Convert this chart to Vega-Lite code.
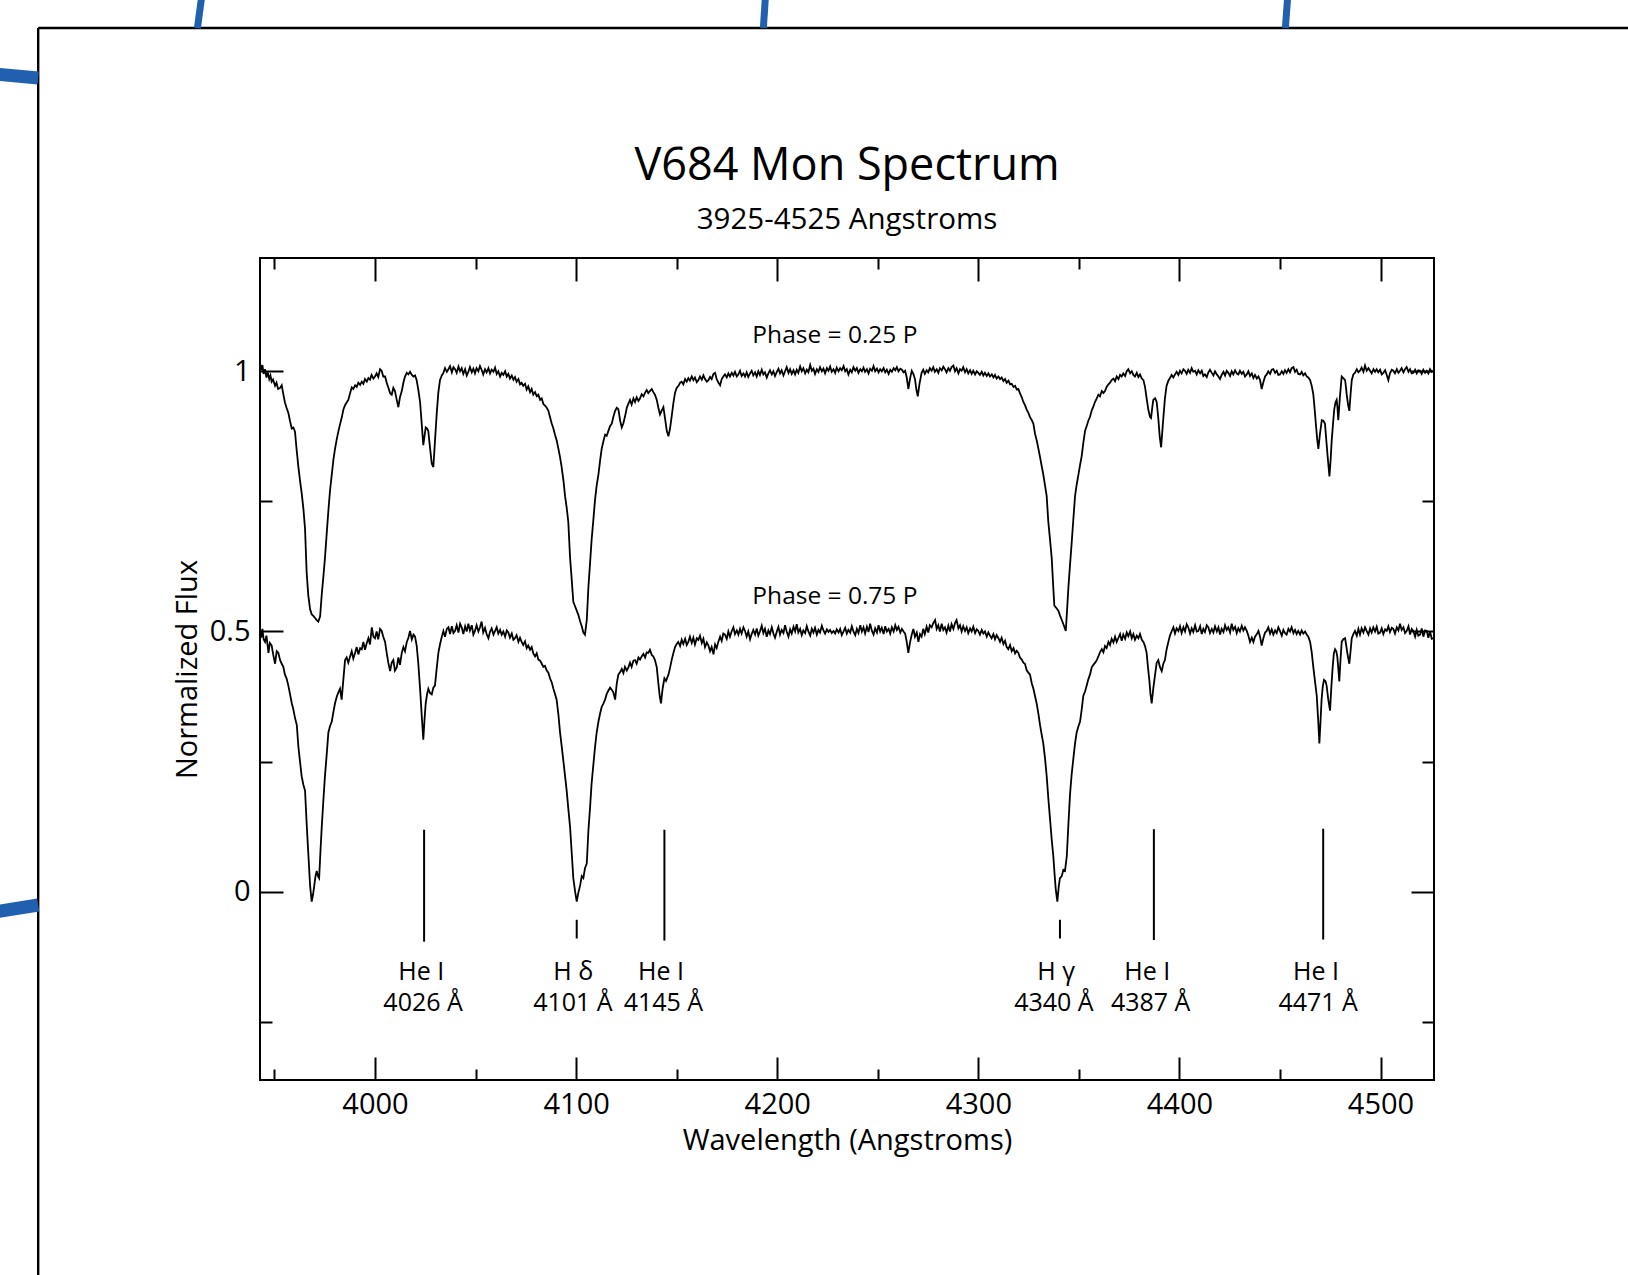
{
"$schema":"https://vega.github.io/schema/vega-lite/v6.json",
"width":1174,"height":822,
"autosize":{"type":"none"},
"padding":{"left":260,"top":258,"right":194,"bottom":195},
"background":"white",
"title":{"text":"V684 Mon Spectrum","subtitle":"3925-4525 Angstroms","anchor":"middle","frame":"group","font":"Open Sans","subtitleFont":"Open Sans","fontSize":45,"subtitleFontSize":29.5,"fontWeight":"normal","color":"black","subtitleColor":"black","offset":-239.6,"subtitlePadding":17},
"config":{"view":{"stroke":"black","strokeWidth":2},"axis":{"grid":false,"domain":false,"labelFont":"Open Sans","titleFont":"Open Sans","labelColor":"black","titleColor":"black","tickColor":"black"}},
"resolve":{"axis":{"x":"independent","y":"independent"}},
"datasets":{
"p25":[{"w":3942.8,"f":1.015},{"w":3943.4,"f":1.002},{"w":3944.0,"f":1.012},{"w":3944.6,"f":0.995},{"w":3945.3,"f":1.004},{"w":3946.0,"f":0.988},{"w":3946.7,"f":0.998},{"w":3947.4,"f":0.985},{"w":3948.0,"f":0.992},{"w":3948.6,"f":0.980},{"w":3949.3,"f":0.984},{"w":3950.3,"f":0.972},{"w":3951.0,"f":0.978},{"w":3951.8,"f":0.966},{"w":3952.8,"f":0.968},{"w":3953.6,"f":0.973},{"w":3954.3,"f":0.958},{"w":3955.2,"f":0.940},{"w":3956.0,"f":0.930},{"w":3956.9,"f":0.920},{"w":3957.7,"f":0.905},{"w":3958.6,"f":0.890},{"w":3959.4,"f":0.892},{"w":3960.2,"f":0.884},{"w":3961.0,"f":0.850},{"w":3961.9,"f":0.816},{"w":3962.7,"f":0.790},{"w":3963.5,"f":0.767},{"w":3964.4,"f":0.735},{"w":3965.2,"f":0.697},{"w":3966.0,"f":0.613},{"w":3966.8,"f":0.570},{"w":3967.7,"f":0.543},{"w":3968.5,"f":0.533},{"w":3969.3,"f":0.530},{"w":3970.2,"f":0.526},{"w":3971.0,"f":0.522},{"w":3971.8,"f":0.519},{"w":3972.7,"f":0.529},{"w":3973.5,"f":0.571},{"w":3974.3,"f":0.605},{"w":3975.1,"f":0.641},{"w":3976.0,"f":0.690},{"w":3976.8,"f":0.732},{"w":3977.6,"f":0.770},{"w":3978.5,"f":0.802},{"w":3979.3,"f":0.830},{"w":3980.1,"f":0.851},{"w":3981.0,"f":0.870},{"w":3981.8,"f":0.885},{"w":3982.6,"f":0.898},{"w":3983.5,"f":0.912},{"w":3984.3,"f":0.927},{"w":3985.1,"f":0.935},{"w":3985.9,"f":0.940},{"w":3986.7,"f":0.945},{"w":3987.6,"f":0.958},{"w":3988.4,"f":0.969},{"w":3989.2,"f":0.966},{"w":3990.1,"f":0.973},{"w":3990.9,"f":0.970},{"w":3991.7,"f":0.978},{"w":3992.6,"f":0.974},{"w":3993.4,"f":0.980},{"w":3994.2,"f":0.976},{"w":3995.0,"f":0.985},{"w":3995.9,"f":0.980},{"w":3996.7,"f":0.987},{"w":3997.5,"f":0.984},{"w":3998.3,"f":0.993},{"w":3999.2,"f":0.986},{"w":4000.0,"f":0.990},{"w":4000.8,"f":0.996},{"w":4001.6,"f":0.989},{"w":4002.5,"f":1.004},{"w":4003.3,"f":1.001},{"w":4004.1,"f":0.990},{"w":4005.0,"f":0.990},{"w":4005.8,"f":0.978},{"w":4006.6,"f":0.969},{"w":4007.5,"f":0.958},{"w":4008.3,"f":0.955},{"w":4009.1,"f":0.968},{"w":4009.9,"f":0.962},{"w":4010.8,"f":0.945},{"w":4011.6,"f":0.931},{"w":4012.4,"f":0.950},{"w":4013.3,"f":0.962},{"w":4014.1,"f":0.978},{"w":4014.9,"f":0.990},{"w":4015.8,"f":0.997},{"w":4016.6,"f":0.994},{"w":4017.4,"f":0.999},{"w":4018.3,"f":0.993},{"w":4019.1,"f":0.990},{"w":4019.9,"f":0.992},{"w":4020.7,"f":0.983},{"w":4021.5,"f":0.965},{"w":4022.4,"f":0.941},{"w":4023.2,"f":0.900},{"w":4024.0,"f":0.858},{"w":4024.6,"f":0.875},{"w":4025.2,"f":0.892},{"w":4025.9,"f":0.890},{"w":4026.5,"f":0.885},{"w":4027.3,"f":0.855},{"w":4028.2,"f":0.823},{"w":4029.0,"f":0.816},{"w":4029.8,"f":0.865},{"w":4030.7,"f":0.920},{"w":4031.5,"f":0.960},{"w":4032.3,"f":0.983},{"w":4033.2,"f":0.992},{"w":4034.0,"f":0.997},{"w":4034.8,"f":1.006},{"w":4035.7,"f":0.999},{"w":4036.5,"f":1.004},{"w":4037.3,"f":1.010},{"w":4038.2,"f":0.998},{"w":4039.0,"f":1.008},{"w":4039.8,"f":1.004},{"w":4040.6,"f":0.997},{"w":4041.5,"f":1.009},{"w":4042.3,"f":1.000},{"w":4043.1,"f":1.006},{"w":4043.9,"f":0.995},{"w":4044.8,"f":1.004},{"w":4045.6,"f":0.992},{"w":4046.4,"f":0.999},{"w":4047.2,"f":1.008},{"w":4048.1,"f":0.998},{"w":4048.9,"f":1.005},{"w":4049.7,"f":0.996},{"w":4050.5,"f":1.006},{"w":4051.4,"f":1.000},{"w":4052.2,"f":1.010},{"w":4053.0,"f":1.003},{"w":4053.8,"f":0.994},{"w":4054.7,"f":1.004},{"w":4055.5,"f":0.998},{"w":4056.4,"f":1.006},{"w":4057.2,"f":0.996},{"w":4058.0,"f":1.003},{"w":4058.9,"f":0.999},{"w":4059.7,"f":1.007},{"w":4060.5,"f":0.995},{"w":4061.3,"f":1.000},{"w":4062.2,"f":0.990},{"w":4063.0,"f":0.997},{"w":4063.8,"f":0.993},{"w":4064.7,"f":1.000},{"w":4065.5,"f":0.990},{"w":4066.3,"f":0.995},{"w":4067.1,"f":0.986},{"w":4068.0,"f":0.992},{"w":4068.8,"f":0.984},{"w":4069.6,"f":0.989},{"w":4070.4,"f":0.980},{"w":4071.3,"f":0.985},{"w":4072.1,"f":0.975},{"w":4072.9,"f":0.978},{"w":4073.7,"f":0.972},{"w":4074.6,"f":0.976},{"w":4075.4,"f":0.965},{"w":4076.2,"f":0.971},{"w":4077.1,"f":0.960},{"w":4077.9,"f":0.966},{"w":4078.7,"f":0.955},{"w":4079.6,"f":0.960},{"w":4080.4,"f":0.952},{"w":4081.2,"f":0.955},{"w":4082.1,"f":0.945},{"w":4082.9,"f":0.948},{"w":4083.7,"f":0.937},{"w":4084.5,"f":0.934},{"w":4085.4,"f":0.930},{"w":4086.2,"f":0.924},{"w":4087.0,"f":0.912},{"w":4087.9,"f":0.899},{"w":4088.7,"f":0.890},{"w":4089.5,"f":0.878},{"w":4090.4,"f":0.866},{"w":4091.2,"f":0.851},{"w":4092.0,"f":0.835},{"w":4092.8,"f":0.816},{"w":4093.7,"f":0.790},{"w":4094.5,"f":0.760},{"w":4095.3,"f":0.738},{"w":4096.1,"f":0.711},{"w":4097.0,"f":0.641},{"w":4097.8,"f":0.600},{"w":4098.6,"f":0.557},{"w":4099.5,"f":0.548},{"w":4100.3,"f":0.540},{"w":4101.1,"f":0.532},{"w":4102.0,"f":0.519},{"w":4102.8,"f":0.510},{"w":4103.6,"f":0.498},{"w":4104.4,"f":0.494},{"w":4105.3,"f":0.522},{"w":4106.1,"f":0.585},{"w":4106.9,"f":0.630},{"w":4107.7,"f":0.676},{"w":4108.6,"f":0.716},{"w":4109.4,"f":0.753},{"w":4110.2,"f":0.780},{"w":4111.1,"f":0.802},{"w":4111.9,"f":0.828},{"w":4112.7,"f":0.851},{"w":4113.6,"f":0.866},{"w":4114.4,"f":0.878},{"w":4115.2,"f":0.876},{"w":4116.0,"f":0.885},{"w":4116.9,"f":0.895},{"w":4117.7,"f":0.899},{"w":4118.5,"f":0.912},{"w":4119.4,"f":0.924},{"w":4120.2,"f":0.930},{"w":4121.0,"f":0.927},{"w":4121.9,"f":0.905},{"w":4122.7,"f":0.892},{"w":4123.5,"f":0.900},{"w":4124.3,"f":0.913},{"w":4125.2,"f":0.930},{"w":4126.0,"f":0.938},{"w":4126.8,"f":0.945},{"w":4127.6,"f":0.936},{"w":4128.5,"f":0.948},{"w":4129.3,"f":0.941},{"w":4130.1,"f":0.950},{"w":4131.0,"f":0.943},{"w":4131.8,"f":0.948},{"w":4132.6,"f":0.956},{"w":4133.5,"f":0.952},{"w":4134.3,"f":0.959},{"w":4135.1,"f":0.964},{"w":4135.9,"f":0.958},{"w":4136.7,"f":0.962},{"w":4137.6,"f":0.966},{"w":4138.4,"f":0.960},{"w":4139.2,"f":0.955},{"w":4140.1,"f":0.945},{"w":4140.9,"f":0.930},{"w":4141.7,"f":0.917},{"w":4142.6,"f":0.925},{"w":4143.4,"f":0.931},{"w":4144.2,"f":0.910},{"w":4145.1,"f":0.885},{"w":4145.9,"f":0.875},{"w":4146.7,"f":0.890},{"w":4147.5,"f":0.913},{"w":4148.4,"f":0.940},{"w":4149.2,"f":0.959},{"w":4150.0,"f":0.968},{"w":4150.9,"f":0.972},{"w":4151.7,"f":0.978},{"w":4152.5,"f":0.980},{"w":4153.3,"f":0.975},{"w":4154.2,"f":0.985},{"w":4155.0,"f":0.980},{"w":4155.8,"f":0.987},{"w":4156.6,"f":0.982},{"w":4157.5,"f":0.990},{"w":4158.3,"f":0.983},{"w":4159.1,"f":0.988},{"w":4160.0,"f":0.979},{"w":4160.8,"f":0.983},{"w":4161.6,"f":0.990},{"w":4162.5,"f":0.984},{"w":4163.3,"f":0.992},{"w":4164.1,"f":0.985},{"w":4165.0,"f":0.980},{"w":4165.8,"f":0.983},{"w":4166.6,"f":0.989},{"w":4167.4,"f":0.985},{"w":4168.3,"f":0.995},{"w":4169.1,"f":0.997},{"w":4169.9,"f":0.985},{"w":4170.8,"f":0.978},{"w":4171.6,"f":0.973},{"w":4172.4,"f":0.985},{"w":4173.2,"f":0.990},{"w":4174.0,"f":0.994},{"w":4174.9,"f":0.988},{"w":4175.7,"f":0.996},{"w":4176.5,"f":0.990},{"w":4177.4,"f":0.997},{"w":4178.2,"f":0.992},{"w":4179.0,"f":0.999},{"w":4179.9,"f":0.990},{"w":4180.7,"f":0.994},{"w":4181.5,"f":1.001},{"w":4182.3,"f":0.991},{"w":4183.2,"f":0.996},{"w":4184.0,"f":0.990},{"w":4184.8,"f":0.998},{"w":4185.6,"f":0.989},{"w":4186.5,"f":0.996},{"w":4187.3,"f":1.001},{"w":4188.1,"f":0.992},{"w":4189.0,"f":0.998},{"w":4189.8,"f":0.990},{"w":4190.6,"f":1.000},{"w":4191.4,"f":0.993},{"w":4192.3,"f":1.003},{"w":4193.1,"f":0.994},{"w":4193.9,"f":0.998},{"w":4194.8,"f":0.988},{"w":4195.6,"f":0.996},{"w":4196.4,"f":1.002},{"w":4197.3,"f":0.994},{"w":4198.1,"f":1.000},{"w":4198.9,"f":0.991},{"w":4199.8,"f":0.999},{"w":4200.6,"f":1.005},{"w":4201.4,"f":0.996},{"w":4202.2,"f":1.002},{"w":4203.1,"f":0.992},{"w":4203.9,"f":1.000},{"w":4204.7,"f":1.008},{"w":4205.6,"f":0.997},{"w":4206.4,"f":1.004},{"w":4207.2,"f":0.995},{"w":4208.1,"f":1.002},{"w":4208.9,"f":0.994},{"w":4209.7,"f":1.003},{"w":4210.5,"f":0.997},{"w":4211.4,"f":1.009},{"w":4212.2,"f":1.000},{"w":4213.0,"f":1.006},{"w":4213.9,"f":0.996},{"w":4214.7,"f":1.003},{"w":4215.5,"f":0.998},{"w":4216.4,"f":1.012},{"w":4217.2,"f":1.001},{"w":4218.0,"f":1.005},{"w":4218.8,"f":0.995},{"w":4219.7,"f":1.004},{"w":4220.5,"f":0.999},{"w":4221.3,"f":1.008},{"w":4222.2,"f":1.000},{"w":4223.0,"f":1.005},{"w":4223.8,"f":0.996},{"w":4224.7,"f":1.006},{"w":4225.5,"f":1.001},{"w":4226.3,"f":1.009},{"w":4227.1,"f":0.999},{"w":4228.0,"f":1.004},{"w":4228.8,"f":0.997},{"w":4229.6,"f":1.007},{"w":4230.5,"f":1.000},{"w":4231.3,"f":1.006},{"w":4232.1,"f":1.002},{"w":4233.0,"f":1.010},{"w":4233.8,"f":1.000},{"w":4234.6,"f":1.004},{"w":4235.4,"f":0.994},{"w":4236.3,"f":1.003},{"w":4237.1,"f":0.998},{"w":4237.9,"f":1.008},{"w":4238.8,"f":1.001},{"w":4239.6,"f":1.006},{"w":4240.4,"f":0.997},{"w":4241.3,"f":1.004},{"w":4242.1,"f":1.000},{"w":4242.9,"f":1.007},{"w":4243.7,"f":0.999},{"w":4244.6,"f":1.004},{"w":4245.4,"f":0.996},{"w":4246.2,"f":1.005},{"w":4247.1,"f":1.001},{"w":4247.9,"f":1.010},{"w":4248.7,"f":1.000},{"w":4249.6,"f":1.005},{"w":4250.4,"f":0.998},{"w":4251.2,"f":1.004},{"w":4252.0,"f":1.000},{"w":4252.9,"f":1.006},{"w":4253.7,"f":0.998},{"w":4254.5,"f":1.003},{"w":4255.4,"f":0.995},{"w":4256.2,"f":1.003},{"w":4257.0,"f":0.999},{"w":4257.9,"f":1.006},{"w":4258.7,"f":1.002},{"w":4259.5,"f":1.008},{"w":4260.3,"f":1.000},{"w":4261.2,"f":1.005},{"w":4262.0,"f":1.003},{"w":4262.8,"f":0.998},{"w":4263.6,"f":1.001},{"w":4264.4,"f":0.988},{"w":4265.2,"f":0.966},{"w":4266.0,"f":0.985},{"w":4266.9,"f":1.001},{"w":4267.7,"f":0.995},{"w":4268.5,"f":0.985},{"w":4269.2,"f":0.965},{"w":4269.9,"f":0.952},{"w":4270.7,"f":0.975},{"w":4271.8,"f":0.997},{"w":4272.6,"f":1.003},{"w":4273.4,"f":0.995},{"w":4274.3,"f":1.002},{"w":4275.1,"f":0.998},{"w":4275.9,"f":1.006},{"w":4276.8,"f":1.001},{"w":4277.6,"f":1.008},{"w":4278.4,"f":0.999},{"w":4279.3,"f":1.004},{"w":4280.1,"f":0.997},{"w":4280.9,"f":1.006},{"w":4281.8,"f":1.002},{"w":4282.6,"f":1.009},{"w":4283.4,"f":1.004},{"w":4284.2,"f":0.998},{"w":4285.1,"f":1.006},{"w":4285.9,"f":1.001},{"w":4286.7,"f":1.008},{"w":4287.6,"f":1.011},{"w":4288.4,"f":1.000},{"w":4289.2,"f":1.006},{"w":4290.1,"f":0.996},{"w":4290.9,"f":1.004},{"w":4291.7,"f":1.001},{"w":4292.5,"f":1.008},{"w":4293.4,"f":0.998},{"w":4294.2,"f":1.004},{"w":4295.0,"f":0.996},{"w":4295.9,"f":1.002},{"w":4296.7,"f":0.995},{"w":4297.5,"f":1.001},{"w":4298.4,"f":0.994},{"w":4299.2,"f":1.000},{"w":4300.0,"f":0.997},{"w":4300.8,"f":0.993},{"w":4301.7,"f":0.999},{"w":4302.5,"f":0.992},{"w":4303.3,"f":0.997},{"w":4304.2,"f":0.991},{"w":4305.0,"f":0.996},{"w":4305.8,"f":0.990},{"w":4306.7,"f":0.994},{"w":4307.5,"f":0.988},{"w":4308.3,"f":0.993},{"w":4309.1,"f":0.986},{"w":4310.0,"f":0.990},{"w":4310.8,"f":0.985},{"w":4311.6,"f":0.988},{"w":4312.5,"f":0.981},{"w":4313.3,"f":0.985},{"w":4314.1,"f":0.978},{"w":4315.0,"f":0.982},{"w":4315.8,"f":0.975},{"w":4316.6,"f":0.976},{"w":4317.5,"f":0.970},{"w":4318.3,"f":0.972},{"w":4319.1,"f":0.965},{"w":4319.9,"f":0.966},{"w":4320.7,"f":0.958},{"w":4321.6,"f":0.950},{"w":4322.4,"f":0.941},{"w":4323.2,"f":0.935},{"w":4324.1,"f":0.926},{"w":4324.9,"f":0.920},{"w":4325.7,"f":0.912},{"w":4326.6,"f":0.906},{"w":4327.4,"f":0.899},{"w":4328.2,"f":0.880},{"w":4329.1,"f":0.866},{"w":4329.9,"f":0.851},{"w":4330.7,"f":0.835},{"w":4331.5,"f":0.818},{"w":4332.3,"f":0.802},{"w":4333.2,"f":0.780},{"w":4334.0,"f":0.760},{"w":4334.8,"f":0.711},{"w":4335.7,"f":0.675},{"w":4336.5,"f":0.641},{"w":4337.2,"f":0.590},{"w":4337.8,"f":0.550},{"w":4338.8,"f":0.545},{"w":4339.8,"f":0.540},{"w":4340.6,"f":0.531},{"w":4341.5,"f":0.522},{"w":4342.5,"f":0.512},{"w":4343.5,"f":0.501},{"w":4344.2,"f":0.545},{"w":4344.8,"f":0.585},{"w":4345.6,"f":0.628},{"w":4346.4,"f":0.669},{"w":4347.3,"f":0.718},{"w":4348.1,"f":0.760},{"w":4348.9,"f":0.782},{"w":4349.8,"f":0.802},{"w":4350.6,"f":0.820},{"w":4351.4,"f":0.837},{"w":4352.2,"f":0.862},{"w":4353.1,"f":0.886},{"w":4353.9,"f":0.895},{"w":4354.7,"f":0.905},{"w":4355.6,"f":0.913},{"w":4356.4,"f":0.925},{"w":4357.2,"f":0.932},{"w":4358.0,"f":0.941},{"w":4358.9,"f":0.948},{"w":4359.7,"f":0.955},{"w":4360.5,"f":0.952},{"w":4361.4,"f":0.962},{"w":4362.2,"f":0.958},{"w":4363.0,"f":0.962},{"w":4363.8,"f":0.970},{"w":4364.7,"f":0.975},{"w":4365.5,"f":0.978},{"w":4366.3,"f":0.983},{"w":4367.2,"f":0.986},{"w":4368.0,"f":0.981},{"w":4368.8,"f":0.990},{"w":4369.7,"f":0.985},{"w":4370.5,"f":0.993},{"w":4371.3,"f":0.990},{"w":4372.1,"f":0.996},{"w":4373.0,"f":0.991},{"w":4373.8,"f":1.000},{"w":4374.6,"f":1.004},{"w":4375.5,"f":0.996},{"w":4376.3,"f":1.000},{"w":4377.1,"f":0.993},{"w":4377.9,"f":0.990},{"w":4378.8,"f":0.997},{"w":4379.6,"f":0.989},{"w":4380.4,"f":0.994},{"w":4381.3,"f":0.986},{"w":4382.1,"f":0.983},{"w":4382.9,"f":0.970},{"w":4383.7,"f":0.948},{"w":4384.6,"f":0.925},{"w":4385.4,"f":0.912},{"w":4385.9,"f":0.910},{"w":4386.5,"f":0.930},{"w":4387.0,"f":0.945},{"w":4387.9,"f":0.948},{"w":4388.7,"f":0.941},{"w":4389.5,"f":0.910},{"w":4390.2,"f":0.875},{"w":4390.9,"f":0.854},{"w":4391.8,"f":0.900},{"w":4392.8,"f":0.948},{"w":4393.6,"f":0.972},{"w":4394.5,"f":0.982},{"w":4395.3,"f":0.987},{"w":4396.1,"f":0.993},{"w":4397.0,"f":0.988},{"w":4397.8,"f":0.994},{"w":4398.6,"f":0.999},{"w":4399.5,"f":0.993},{"w":4400.3,"f":1.001},{"w":4401.1,"f":0.996},{"w":4402.0,"f":1.004},{"w":4402.8,"f":1.001},{"w":4403.6,"f":0.995},{"w":4404.4,"f":1.003},{"w":4405.3,"f":0.997},{"w":4406.1,"f":1.006},{"w":4406.9,"f":0.999},{"w":4407.8,"f":1.001},{"w":4408.6,"f":0.994},{"w":4409.4,"f":1.002},{"w":4410.3,"f":0.996},{"w":4411.1,"f":1.001},{"w":4411.9,"f":0.991},{"w":4412.7,"f":0.994},{"w":4413.6,"f":0.989},{"w":4414.4,"f":0.998},{"w":4415.2,"f":1.003},{"w":4416.1,"f":0.997},{"w":4416.9,"f":0.992},{"w":4417.7,"f":1.000},{"w":4418.6,"f":0.994},{"w":4419.4,"f":0.990},{"w":4420.2,"f":0.985},{"w":4421.0,"f":0.993},{"w":4421.9,"f":0.999},{"w":4422.7,"f":0.992},{"w":4423.5,"f":1.001},{"w":4424.3,"f":0.997},{"w":4425.2,"f":0.991},{"w":4426.0,"f":1.000},{"w":4426.8,"f":0.994},{"w":4427.7,"f":1.002},{"w":4428.5,"f":0.996},{"w":4429.3,"f":0.994},{"w":4430.1,"f":1.001},{"w":4431.0,"f":0.995},{"w":4431.8,"f":0.999},{"w":4432.6,"f":0.990},{"w":4433.5,"f":0.994},{"w":4434.3,"f":1.000},{"w":4435.1,"f":0.991},{"w":4436.0,"f":0.996},{"w":4436.8,"f":0.987},{"w":4437.6,"f":0.993},{"w":4438.5,"f":0.986},{"w":4439.3,"f":0.990},{"w":4440.1,"f":0.983},{"w":4440.9,"f":0.966},{"w":4441.8,"f":0.980},{"w":4442.6,"f":0.990},{"w":4443.4,"f":0.994},{"w":4444.2,"f":1.000},{"w":4445.1,"f":0.995},{"w":4445.9,"f":1.003},{"w":4446.7,"f":1.004},{"w":4447.6,"f":0.997},{"w":4448.4,"f":1.001},{"w":4449.2,"f":0.993},{"w":4450.0,"f":0.994},{"w":4450.9,"f":1.000},{"w":4451.7,"f":0.995},{"w":4452.5,"f":1.002},{"w":4453.3,"f":0.997},{"w":4454.2,"f":1.004},{"w":4455.0,"f":0.998},{"w":4455.8,"f":1.006},{"w":4456.7,"f":1.008},{"w":4457.5,"f":0.999},{"w":4458.3,"f":1.003},{"w":4459.1,"f":0.995},{"w":4460.0,"f":0.994},{"w":4460.8,"f":0.999},{"w":4461.6,"f":0.992},{"w":4462.5,"f":0.996},{"w":4463.3,"f":0.990},{"w":4464.1,"f":0.988},{"w":4465.0,"f":0.983},{"w":4465.8,"f":0.972},{"w":4466.6,"f":0.955},{"w":4467.3,"f":0.925},{"w":4468.0,"f":0.892},{"w":4468.5,"f":0.870},{"w":4469.1,"f":0.851},{"w":4469.9,"f":0.880},{"w":4470.8,"f":0.906},{"w":4471.6,"f":0.905},{"w":4472.4,"f":0.899},{"w":4473.1,"f":0.865},{"w":4473.7,"f":0.837},{"w":4474.6,"f":0.798},{"w":4475.2,"f":0.830},{"w":4475.7,"f":0.865},{"w":4476.4,"f":0.900},{"w":4477.0,"f":0.927},{"w":4477.6,"f":0.940},{"w":4478.2,"f":0.945},{"w":4478.6,"f":0.930},{"w":4479.0,"f":0.906},{"w":4479.8,"f":0.950},{"w":4480.7,"f":0.990},{"w":4481.5,"f":0.987},{"w":4482.4,"f":0.983},{"w":4482.8,"f":0.970},{"w":4483.2,"f":0.955},{"w":4483.9,"f":0.935},{"w":4484.5,"f":0.924},{"w":4485.1,"f":0.955},{"w":4485.7,"f":0.983},{"w":4486.5,"f":0.994},{"w":4487.3,"f":0.997},{"w":4488.2,"f":1.004},{"w":4489.0,"f":0.998},{"w":4489.8,"f":1.001},{"w":4490.6,"f":1.007},{"w":4491.5,"f":0.999},{"w":4492.3,"f":1.011},{"w":4493.1,"f":1.001},{"w":4494.0,"f":1.006},{"w":4494.8,"f":1.001},{"w":4495.6,"f":0.996},{"w":4496.5,"f":1.004},{"w":4497.3,"f":0.999},{"w":4498.1,"f":1.004},{"w":4498.9,"f":0.998},{"w":4499.8,"f":1.003},{"w":4500.6,"f":0.994},{"w":4501.4,"f":0.997},{"w":4502.3,"f":1.002},{"w":4503.1,"f":0.993},{"w":4503.9,"f":0.983},{"w":4504.7,"f":0.996},{"w":4505.6,"f":1.003},{"w":4506.4,"f":1.001},{"w":4507.2,"f":0.996},{"w":4508.1,"f":1.004},{"w":4508.9,"f":0.997},{"w":4509.7,"f":1.001},{"w":4510.5,"f":1.006},{"w":4511.4,"f":0.998},{"w":4512.2,"f":1.004},{"w":4513.0,"f":1.008},{"w":4513.9,"f":0.999},{"w":4514.7,"f":1.004},{"w":4515.5,"f":0.996},{"w":4516.3,"f":0.997},{"w":4517.2,"f":1.003},{"w":4518.0,"f":0.996},{"w":4518.8,"f":1.002},{"w":4519.7,"f":1.001},{"w":4520.5,"f":0.995},{"w":4521.3,"f":1.003},{"w":4522.2,"f":0.997},{"w":4523.0,"f":1.001},{"w":4523.8,"f":0.996},{"w":4524.6,"f":1.004},{"w":4525.5,"f":0.999},{"w":4526.3,"f":1.001}],
"p75":[{"w":3942.8,"f":0.501},{"w":3943.4,"f":0.488},{"w":3944.0,"f":0.505},{"w":3944.6,"f":0.485},{"w":3945.3,"f":0.480},{"w":3946.0,"f":0.492},{"w":3946.7,"f":0.470},{"w":3947.0,"f":0.459},{"w":3947.7,"f":0.478},{"w":3948.6,"f":0.473},{"w":3949.4,"f":0.455},{"w":3950.3,"f":0.438},{"w":3951.1,"f":0.462},{"w":3951.9,"f":0.459},{"w":3952.8,"f":0.445},{"w":3953.6,"f":0.438},{"w":3954.4,"f":0.432},{"w":3955.2,"f":0.417},{"w":3956.0,"f":0.410},{"w":3956.9,"f":0.396},{"w":3957.7,"f":0.380},{"w":3958.6,"f":0.362},{"w":3959.4,"f":0.350},{"w":3960.2,"f":0.334},{"w":3961.1,"f":0.320},{"w":3961.9,"f":0.278},{"w":3962.7,"f":0.250},{"w":3963.5,"f":0.222},{"w":3964.4,"f":0.205},{"w":3965.2,"f":0.194},{"w":3966.0,"f":0.131},{"w":3966.9,"f":0.068},{"w":3967.7,"f":0.012},{"w":3968.5,"f":-0.019},{"w":3969.2,"f":-0.005},{"w":3969.8,"f":0.012},{"w":3970.4,"f":0.030},{"w":3971.0,"f":0.040},{"w":3971.6,"f":0.030},{"w":3972.2,"f":0.026},{"w":3972.9,"f":0.080},{"w":3973.5,"f":0.124},{"w":3974.3,"f":0.175},{"w":3975.1,"f":0.222},{"w":3976.0,"f":0.265},{"w":3976.8,"f":0.306},{"w":3977.6,"f":0.318},{"w":3978.5,"f":0.327},{"w":3979.3,"f":0.345},{"w":3980.1,"f":0.362},{"w":3981.0,"f":0.375},{"w":3981.8,"f":0.383},{"w":3982.6,"f":0.390},{"w":3983.4,"f":0.369},{"w":3984.3,"f":0.410},{"w":3985.1,"f":0.445},{"w":3985.9,"f":0.450},{"w":3986.7,"f":0.440},{"w":3987.6,"f":0.452},{"w":3988.4,"f":0.462},{"w":3989.2,"f":0.448},{"w":3990.1,"f":0.459},{"w":3990.9,"f":0.470},{"w":3991.7,"f":0.456},{"w":3992.6,"f":0.468},{"w":3993.4,"f":0.466},{"w":3994.2,"f":0.480},{"w":3995.0,"f":0.465},{"w":3995.9,"f":0.478},{"w":3996.7,"f":0.487},{"w":3997.5,"f":0.475},{"w":3998.4,"f":0.508},{"w":3999.2,"f":0.490},{"w":4000.0,"f":0.487},{"w":4000.8,"f":0.500},{"w":4001.6,"f":0.485},{"w":4002.5,"f":0.505},{"w":4003.3,"f":0.501},{"w":4004.1,"f":0.490},{"w":4005.0,"f":0.480},{"w":4005.8,"f":0.459},{"w":4006.6,"f":0.440},{"w":4007.5,"f":0.424},{"w":4008.3,"f":0.440},{"w":4009.1,"f":0.445},{"w":4009.9,"f":0.425},{"w":4010.8,"f":0.431},{"w":4011.6,"f":0.450},{"w":4012.4,"f":0.436},{"w":4013.3,"f":0.459},{"w":4014.1,"f":0.470},{"w":4014.9,"f":0.462},{"w":4015.8,"f":0.480},{"w":4016.6,"f":0.488},{"w":4017.4,"f":0.501},{"w":4018.3,"f":0.485},{"w":4019.1,"f":0.494},{"w":4019.9,"f":0.490},{"w":4020.7,"f":0.473},{"w":4021.5,"f":0.440},{"w":4022.4,"f":0.390},{"w":4023.2,"f":0.340},{"w":4024.0,"f":0.292},{"w":4024.6,"f":0.330},{"w":4025.2,"f":0.362},{"w":4025.9,"f":0.380},{"w":4026.5,"f":0.390},{"w":4027.3,"f":0.382},{"w":4028.2,"f":0.379},{"w":4029.0,"f":0.392},{"w":4029.8,"f":0.396},{"w":4030.7,"f":0.430},{"w":4031.5,"f":0.459},{"w":4032.3,"f":0.475},{"w":4033.2,"f":0.490},{"w":4034.0,"f":0.501},{"w":4034.8,"f":0.490},{"w":4035.7,"f":0.505},{"w":4036.5,"f":0.508},{"w":4037.3,"f":0.495},{"w":4038.2,"f":0.510},{"w":4039.0,"f":0.497},{"w":4039.8,"f":0.501},{"w":4040.6,"f":0.512},{"w":4041.5,"f":0.498},{"w":4042.3,"f":0.515},{"w":4043.1,"f":0.508},{"w":4043.9,"f":0.495},{"w":4044.8,"f":0.510},{"w":4045.6,"f":0.500},{"w":4046.4,"f":0.515},{"w":4047.2,"f":0.502},{"w":4048.1,"f":0.512},{"w":4048.9,"f":0.494},{"w":4049.7,"f":0.501},{"w":4050.5,"f":0.512},{"w":4051.4,"f":0.500},{"w":4052.2,"f":0.508},{"w":4053.0,"f":0.519},{"w":4053.8,"f":0.498},{"w":4054.7,"f":0.507},{"w":4055.5,"f":0.495},{"w":4056.4,"f":0.487},{"w":4057.2,"f":0.500},{"w":4058.0,"f":0.506},{"w":4058.9,"f":0.494},{"w":4059.7,"f":0.501},{"w":4060.5,"f":0.508},{"w":4061.3,"f":0.496},{"w":4062.2,"f":0.503},{"w":4063.0,"f":0.494},{"w":4063.8,"f":0.500},{"w":4064.7,"f":0.490},{"w":4065.5,"f":0.502},{"w":4066.3,"f":0.498},{"w":4067.1,"f":0.488},{"w":4068.0,"f":0.496},{"w":4068.8,"f":0.484},{"w":4069.6,"f":0.487},{"w":4070.4,"f":0.493},{"w":4071.3,"f":0.480},{"w":4072.1,"f":0.488},{"w":4072.9,"f":0.480},{"w":4073.7,"f":0.474},{"w":4074.6,"f":0.481},{"w":4075.4,"f":0.468},{"w":4076.2,"f":0.473},{"w":4077.1,"f":0.465},{"w":4077.9,"f":0.470},{"w":4078.7,"f":0.458},{"w":4079.6,"f":0.452},{"w":4080.4,"f":0.458},{"w":4081.2,"f":0.446},{"w":4082.1,"f":0.444},{"w":4082.9,"f":0.438},{"w":4083.7,"f":0.432},{"w":4084.5,"f":0.434},{"w":4085.4,"f":0.425},{"w":4086.2,"f":0.421},{"w":4087.0,"f":0.410},{"w":4087.9,"f":0.402},{"w":4088.7,"f":0.390},{"w":4089.5,"f":0.380},{"w":4090.3,"f":0.369},{"w":4091.2,"f":0.340},{"w":4092.0,"f":0.306},{"w":4092.8,"f":0.280},{"w":4093.7,"f":0.250},{"w":4094.5,"f":0.222},{"w":4095.3,"f":0.194},{"w":4096.1,"f":0.160},{"w":4097.0,"f":0.124},{"w":4097.8,"f":0.075},{"w":4098.6,"f":0.026},{"w":4099.5,"f":0.000},{"w":4100.3,"f":-0.019},{"w":4101.1,"f":-0.002},{"w":4102.0,"f":0.012},{"w":4102.8,"f":0.030},{"w":4103.6,"f":0.026},{"w":4104.4,"f":0.045},{"w":4105.3,"f":0.054},{"w":4106.1,"f":0.117},{"w":4106.9,"f":0.160},{"w":4107.7,"f":0.208},{"w":4108.6,"f":0.245},{"w":4109.4,"f":0.278},{"w":4110.2,"f":0.305},{"w":4111.1,"f":0.327},{"w":4111.9,"f":0.342},{"w":4112.7,"f":0.355},{"w":4113.6,"f":0.362},{"w":4114.4,"f":0.369},{"w":4115.2,"f":0.380},{"w":4116.0,"f":0.386},{"w":4116.9,"f":0.392},{"w":4117.7,"f":0.388},{"w":4118.5,"f":0.383},{"w":4119.4,"f":0.369},{"w":4120.2,"f":0.400},{"w":4121.0,"f":0.417},{"w":4121.9,"f":0.422},{"w":4122.7,"f":0.428},{"w":4123.5,"f":0.420},{"w":4124.3,"f":0.432},{"w":4125.2,"f":0.425},{"w":4126.0,"f":0.431},{"w":4126.8,"f":0.440},{"w":4127.6,"f":0.432},{"w":4128.5,"f":0.444},{"w":4129.3,"f":0.445},{"w":4130.1,"f":0.438},{"w":4131.0,"f":0.450},{"w":4131.8,"f":0.446},{"w":4132.6,"f":0.452},{"w":4133.5,"f":0.457},{"w":4134.3,"f":0.450},{"w":4135.1,"f":0.460},{"w":4135.9,"f":0.459},{"w":4136.7,"f":0.465},{"w":4137.6,"f":0.455},{"w":4138.4,"f":0.452},{"w":4139.2,"f":0.445},{"w":4140.1,"f":0.431},{"w":4140.9,"f":0.400},{"w":4141.6,"f":0.375},{"w":4142.2,"f":0.362},{"w":4143.0,"f":0.390},{"w":4143.9,"f":0.410},{"w":4144.7,"f":0.405},{"w":4145.9,"f":0.417},{"w":4146.7,"f":0.430},{"w":4147.5,"f":0.445},{"w":4148.4,"f":0.459},{"w":4149.2,"f":0.470},{"w":4150.0,"f":0.476},{"w":4150.8,"f":0.480},{"w":4151.7,"f":0.472},{"w":4152.5,"f":0.484},{"w":4153.3,"f":0.476},{"w":4154.2,"f":0.486},{"w":4155.0,"f":0.474},{"w":4155.8,"f":0.480},{"w":4156.6,"f":0.490},{"w":4157.5,"f":0.478},{"w":4158.3,"f":0.488},{"w":4159.1,"f":0.475},{"w":4160.0,"f":0.487},{"w":4160.8,"f":0.484},{"w":4161.6,"f":0.492},{"w":4162.5,"f":0.478},{"w":4163.3,"f":0.486},{"w":4164.1,"f":0.470},{"w":4165.0,"f":0.479},{"w":4165.8,"f":0.473},{"w":4166.6,"f":0.462},{"w":4167.4,"f":0.470},{"w":4168.3,"f":0.456},{"w":4169.1,"f":0.475},{"w":4169.9,"f":0.468},{"w":4170.7,"f":0.480},{"w":4171.6,"f":0.490},{"w":4172.4,"f":0.482},{"w":4173.2,"f":0.496},{"w":4174.0,"f":0.494},{"w":4174.9,"f":0.486},{"w":4175.7,"f":0.500},{"w":4176.5,"f":0.490},{"w":4177.4,"f":0.501},{"w":4178.2,"f":0.508},{"w":4179.0,"f":0.495},{"w":4179.9,"f":0.502},{"w":4180.7,"f":0.494},{"w":4181.5,"f":0.505},{"w":4182.3,"f":0.496},{"w":4183.2,"f":0.508},{"w":4184.0,"f":0.501},{"w":4184.8,"f":0.490},{"w":4185.6,"f":0.500},{"w":4186.5,"f":0.485},{"w":4187.3,"f":0.495},{"w":4188.1,"f":0.503},{"w":4189.0,"f":0.494},{"w":4189.8,"f":0.506},{"w":4190.6,"f":0.492},{"w":4191.4,"f":0.500},{"w":4192.3,"f":0.511},{"w":4193.1,"f":0.497},{"w":4193.9,"f":0.505},{"w":4194.8,"f":0.490},{"w":4195.6,"f":0.502},{"w":4196.4,"f":0.495},{"w":4197.3,"f":0.508},{"w":4198.1,"f":0.496},{"w":4198.9,"f":0.488},{"w":4199.8,"f":0.500},{"w":4200.6,"f":0.509},{"w":4201.4,"f":0.494},{"w":4202.2,"f":0.503},{"w":4203.1,"f":0.497},{"w":4203.9,"f":0.512},{"w":4204.7,"f":0.500},{"w":4205.6,"f":0.490},{"w":4206.4,"f":0.504},{"w":4207.2,"f":0.496},{"w":4208.1,"f":0.509},{"w":4208.9,"f":0.500},{"w":4209.7,"f":0.514},{"w":4210.5,"f":0.498},{"w":4211.4,"f":0.505},{"w":4212.2,"f":0.493},{"w":4213.0,"f":0.502},{"w":4213.9,"f":0.497},{"w":4214.7,"f":0.510},{"w":4215.5,"f":0.500},{"w":4216.4,"f":0.492},{"w":4217.2,"f":0.505},{"w":4218.0,"f":0.498},{"w":4218.8,"f":0.507},{"w":4219.7,"f":0.494},{"w":4220.5,"f":0.503},{"w":4221.3,"f":0.498},{"w":4222.2,"f":0.511},{"w":4223.0,"f":0.502},{"w":4223.8,"f":0.496},{"w":4224.7,"f":0.504},{"w":4225.5,"f":0.499},{"w":4226.3,"f":0.503},{"w":4227.1,"f":0.497},{"w":4228.0,"f":0.501},{"w":4228.8,"f":0.496},{"w":4229.6,"f":0.504},{"w":4230.5,"f":0.498},{"w":4231.3,"f":0.505},{"w":4232.1,"f":0.493},{"w":4233.0,"f":0.500},{"w":4233.8,"f":0.507},{"w":4234.6,"f":0.496},{"w":4235.4,"f":0.503},{"w":4236.3,"f":0.498},{"w":4237.1,"f":0.510},{"w":4237.9,"f":0.500},{"w":4238.8,"f":0.493},{"w":4239.6,"f":0.505},{"w":4240.4,"f":0.497},{"w":4241.3,"f":0.512},{"w":4242.1,"f":0.500},{"w":4242.9,"f":0.508},{"w":4243.7,"f":0.496},{"w":4244.6,"f":0.509},{"w":4245.4,"f":0.499},{"w":4246.2,"f":0.515},{"w":4247.1,"f":0.501},{"w":4247.9,"f":0.494},{"w":4248.7,"f":0.506},{"w":4249.6,"f":0.498},{"w":4250.4,"f":0.512},{"w":4251.2,"f":0.500},{"w":4252.0,"f":0.507},{"w":4252.9,"f":0.495},{"w":4253.7,"f":0.510},{"w":4254.5,"f":0.500},{"w":4255.4,"f":0.505},{"w":4256.2,"f":0.496},{"w":4257.0,"f":0.508},{"w":4257.9,"f":0.500},{"w":4258.7,"f":0.512},{"w":4259.5,"f":0.503},{"w":4260.3,"f":0.509},{"w":4261.2,"f":0.498},{"w":4262.0,"f":0.505},{"w":4262.8,"f":0.500},{"w":4263.6,"f":0.496},{"w":4264.4,"f":0.480},{"w":4265.2,"f":0.459},{"w":4266.0,"f":0.478},{"w":4266.9,"f":0.494},{"w":4267.7,"f":0.505},{"w":4268.5,"f":0.490},{"w":4269.4,"f":0.498},{"w":4270.2,"f":0.480},{"w":4271.0,"f":0.495},{"w":4271.8,"f":0.490},{"w":4272.6,"f":0.505},{"w":4273.4,"f":0.495},{"w":4274.3,"f":0.509},{"w":4275.1,"f":0.498},{"w":4275.9,"f":0.512},{"w":4276.8,"f":0.508},{"w":4277.6,"f":0.516},{"w":4278.5,"f":0.522},{"w":4279.3,"f":0.505},{"w":4280.1,"f":0.512},{"w":4280.9,"f":0.500},{"w":4281.8,"f":0.515},{"w":4282.6,"f":0.503},{"w":4283.4,"f":0.508},{"w":4284.2,"f":0.498},{"w":4285.1,"f":0.511},{"w":4285.9,"f":0.500},{"w":4286.7,"f":0.514},{"w":4287.6,"f":0.505},{"w":4288.4,"f":0.516},{"w":4289.2,"f":0.522},{"w":4290.1,"f":0.506},{"w":4290.9,"f":0.512},{"w":4291.7,"f":0.500},{"w":4292.5,"f":0.510},{"w":4293.4,"f":0.501},{"w":4294.2,"f":0.508},{"w":4295.0,"f":0.497},{"w":4295.9,"f":0.506},{"w":4296.7,"f":0.500},{"w":4297.5,"f":0.509},{"w":4298.4,"f":0.497},{"w":4299.2,"f":0.504},{"w":4300.0,"f":0.501},{"w":4300.8,"f":0.494},{"w":4301.7,"f":0.503},{"w":4302.5,"f":0.496},{"w":4303.3,"f":0.500},{"w":4304.2,"f":0.490},{"w":4305.0,"f":0.498},{"w":4305.8,"f":0.492},{"w":4306.6,"f":0.487},{"w":4307.5,"f":0.495},{"w":4308.3,"f":0.485},{"w":4309.1,"f":0.493},{"w":4310.0,"f":0.487},{"w":4310.8,"f":0.480},{"w":4311.6,"f":0.488},{"w":4312.5,"f":0.476},{"w":4313.3,"f":0.482},{"w":4314.1,"f":0.470},{"w":4314.9,"f":0.466},{"w":4315.8,"f":0.474},{"w":4316.6,"f":0.462},{"w":4317.5,"f":0.468},{"w":4318.3,"f":0.458},{"w":4319.1,"f":0.463},{"w":4319.9,"f":0.459},{"w":4320.7,"f":0.450},{"w":4321.6,"f":0.446},{"w":4322.4,"f":0.440},{"w":4323.2,"f":0.438},{"w":4324.1,"f":0.425},{"w":4324.9,"f":0.421},{"w":4325.7,"f":0.417},{"w":4326.6,"f":0.400},{"w":4327.4,"f":0.390},{"w":4328.2,"f":0.376},{"w":4329.1,"f":0.360},{"w":4329.9,"f":0.341},{"w":4330.7,"f":0.320},{"w":4331.5,"f":0.302},{"w":4332.3,"f":0.285},{"w":4333.2,"f":0.255},{"w":4334.0,"f":0.222},{"w":4334.8,"f":0.180},{"w":4335.7,"f":0.138},{"w":4336.5,"f":0.100},{"w":4337.3,"f":0.068},{"w":4337.9,"f":0.035},{"w":4338.5,"f":0.005},{"w":4339.3,"f":-0.019},{"w":4340.0,"f":0.010},{"w":4340.6,"f":0.026},{"w":4341.5,"f":0.030},{"w":4342.3,"f":0.042},{"w":4343.1,"f":0.040},{"w":4344.0,"f":0.068},{"w":4344.8,"f":0.130},{"w":4345.6,"f":0.187},{"w":4346.4,"f":0.225},{"w":4347.3,"f":0.257},{"w":4348.1,"f":0.285},{"w":4348.9,"f":0.306},{"w":4349.8,"f":0.318},{"w":4350.6,"f":0.327},{"w":4351.4,"f":0.350},{"w":4352.2,"f":0.376},{"w":4353.1,"f":0.385},{"w":4353.9,"f":0.396},{"w":4354.7,"f":0.408},{"w":4355.6,"f":0.418},{"w":4356.4,"f":0.431},{"w":4357.2,"f":0.436},{"w":4358.1,"f":0.440},{"w":4358.9,"f":0.445},{"w":4359.7,"f":0.452},{"w":4360.5,"f":0.460},{"w":4361.4,"f":0.466},{"w":4362.2,"f":0.460},{"w":4363.0,"f":0.472},{"w":4363.8,"f":0.468},{"w":4364.7,"f":0.480},{"w":4365.5,"f":0.474},{"w":4366.3,"f":0.486},{"w":4367.2,"f":0.479},{"w":4368.0,"f":0.490},{"w":4368.8,"f":0.480},{"w":4369.6,"f":0.487},{"w":4370.5,"f":0.495},{"w":4371.3,"f":0.482},{"w":4372.1,"f":0.494},{"w":4373.0,"f":0.486},{"w":4373.8,"f":0.498},{"w":4374.6,"f":0.491},{"w":4375.5,"f":0.500},{"w":4376.3,"f":0.487},{"w":4377.1,"f":0.495},{"w":4377.9,"f":0.484},{"w":4378.8,"f":0.492},{"w":4379.6,"f":0.487},{"w":4380.4,"f":0.495},{"w":4381.3,"f":0.484},{"w":4382.1,"f":0.480},{"w":4382.9,"f":0.472},{"w":4383.7,"f":0.459},{"w":4384.4,"f":0.430},{"w":4385.1,"f":0.404},{"w":4385.6,"f":0.380},{"w":4386.2,"f":0.362},{"w":4387.0,"f":0.390},{"w":4387.9,"f":0.417},{"w":4388.7,"f":0.440},{"w":4389.5,"f":0.445},{"w":4390.3,"f":0.432},{"w":4391.2,"f":0.424},{"w":4392.0,"f":0.438},{"w":4392.8,"f":0.445},{"w":4393.6,"f":0.465},{"w":4394.5,"f":0.480},{"w":4395.3,"f":0.492},{"w":4396.1,"f":0.500},{"w":4397.0,"f":0.508},{"w":4397.8,"f":0.496},{"w":4398.6,"f":0.506},{"w":4399.5,"f":0.501},{"w":4400.3,"f":0.510},{"w":4401.1,"f":0.497},{"w":4402.0,"f":0.508},{"w":4402.8,"f":0.500},{"w":4403.6,"f":0.514},{"w":4404.4,"f":0.508},{"w":4405.3,"f":0.496},{"w":4406.1,"f":0.506},{"w":4406.9,"f":0.499},{"w":4407.8,"f":0.512},{"w":4408.6,"f":0.500},{"w":4409.4,"f":0.501},{"w":4410.3,"f":0.510},{"w":4411.1,"f":0.495},{"w":4411.9,"f":0.505},{"w":4412.7,"f":0.499},{"w":4413.6,"f":0.512},{"w":4414.4,"f":0.508},{"w":4415.2,"f":0.497},{"w":4416.1,"f":0.505},{"w":4416.9,"f":0.498},{"w":4417.7,"f":0.510},{"w":4418.6,"f":0.500},{"w":4419.4,"f":0.508},{"w":4420.2,"f":0.494},{"w":4421.0,"f":0.505},{"w":4421.9,"f":0.499},{"w":4422.7,"f":0.512},{"w":4423.5,"f":0.503},{"w":4424.3,"f":0.508},{"w":4425.2,"f":0.498},{"w":4426.0,"f":0.515},{"w":4426.8,"f":0.503},{"w":4427.7,"f":0.509},{"w":4428.5,"f":0.497},{"w":4429.3,"f":0.506},{"w":4430.1,"f":0.500},{"w":4431.0,"f":0.511},{"w":4431.8,"f":0.502},{"w":4432.6,"f":0.508},{"w":4433.5,"f":0.501},{"w":4434.3,"f":0.492},{"w":4435.1,"f":0.480},{"w":4436.0,"f":0.488},{"w":4436.8,"f":0.480},{"w":4437.6,"f":0.490},{"w":4438.5,"f":0.495},{"w":4439.3,"f":0.501},{"w":4440.1,"f":0.490},{"w":4440.9,"f":0.473},{"w":4441.8,"f":0.488},{"w":4442.6,"f":0.498},{"w":4443.4,"f":0.501},{"w":4444.2,"f":0.508},{"w":4445.1,"f":0.496},{"w":4445.9,"f":0.504},{"w":4446.7,"f":0.494},{"w":4447.6,"f":0.502},{"w":4448.4,"f":0.497},{"w":4449.2,"f":0.508},{"w":4450.0,"f":0.501},{"w":4450.9,"f":0.492},{"w":4451.7,"f":0.503},{"w":4452.5,"f":0.497},{"w":4453.3,"f":0.494},{"w":4454.2,"f":0.505},{"w":4455.0,"f":0.500},{"w":4455.8,"f":0.508},{"w":4456.7,"f":0.497},{"w":4457.5,"f":0.503},{"w":4458.3,"f":0.495},{"w":4459.1,"f":0.501},{"w":4460.0,"f":0.494},{"w":4460.8,"f":0.502},{"w":4461.6,"f":0.496},{"w":4462.5,"f":0.500},{"w":4463.3,"f":0.494},{"w":4464.1,"f":0.490},{"w":4465.0,"f":0.480},{"w":4465.8,"f":0.460},{"w":4466.6,"f":0.431},{"w":4467.4,"f":0.405},{"w":4468.3,"f":0.376},{"w":4469.0,"f":0.330},{"w":4469.6,"f":0.285},{"w":4470.2,"f":0.330},{"w":4470.7,"f":0.369},{"w":4471.3,"f":0.395},{"w":4471.9,"f":0.407},{"w":4472.6,"f":0.405},{"w":4473.2,"f":0.396},{"w":4474.0,"f":0.370},{"w":4474.9,"f":0.348},{"w":4475.5,"f":0.390},{"w":4476.2,"f":0.431},{"w":4476.8,"f":0.458},{"w":4477.4,"f":0.466},{"w":4478.0,"f":0.462},{"w":4478.5,"f":0.452},{"w":4479.0,"f":0.430},{"w":4479.5,"f":0.404},{"w":4480.1,"f":0.445},{"w":4480.7,"f":0.480},{"w":4481.5,"f":0.485},{"w":4482.4,"f":0.487},{"w":4483.0,"f":0.472},{"w":4483.5,"f":0.459},{"w":4484.0,"f":0.448},{"w":4484.5,"f":0.438},{"w":4485.1,"f":0.462},{"w":4485.7,"f":0.487},{"w":4486.5,"f":0.495},{"w":4487.3,"f":0.501},{"w":4488.2,"f":0.492},{"w":4489.0,"f":0.505},{"w":4489.8,"f":0.494},{"w":4490.6,"f":0.506},{"w":4491.5,"f":0.498},{"w":4492.3,"f":0.508},{"w":4493.1,"f":0.501},{"w":4494.0,"f":0.494},{"w":4494.8,"f":0.506},{"w":4495.6,"f":0.498},{"w":4496.4,"f":0.508},{"w":4497.3,"f":0.500},{"w":4498.1,"f":0.509},{"w":4498.9,"f":0.496},{"w":4499.8,"f":0.498},{"w":4500.6,"f":0.506},{"w":4501.4,"f":0.495},{"w":4502.3,"f":0.504},{"w":4503.1,"f":0.501},{"w":4503.9,"f":0.510},{"w":4504.7,"f":0.499},{"w":4505.6,"f":0.507},{"w":4506.4,"f":0.505},{"w":4507.2,"f":0.496},{"w":4508.1,"f":0.508},{"w":4508.9,"f":0.502},{"w":4509.7,"f":0.515},{"w":4510.5,"f":0.503},{"w":4511.4,"f":0.508},{"w":4512.2,"f":0.497},{"w":4513.0,"f":0.501},{"w":4513.9,"f":0.510},{"w":4514.7,"f":0.494},{"w":4515.5,"f":0.505},{"w":4516.3,"f":0.501},{"w":4517.2,"f":0.490},{"w":4518.0,"f":0.503},{"w":4518.8,"f":0.492},{"w":4519.7,"f":0.494},{"w":4520.5,"f":0.506},{"w":4521.3,"f":0.490},{"w":4522.2,"f":0.502},{"w":4523.0,"f":0.501},{"w":4523.8,"f":0.488},{"w":4524.6,"f":0.500},{"w":4525.5,"f":0.486},{"w":4526.3,"f":0.487}],
"marks":[{"w":4024.4,"a":0.119,"b":-0.096},{"w":4100.3,"a":-0.054,"b":-0.090},{"w":4143.9,"a":0.119,"b":-0.094},{"w":4340.6,"a":-0.054,"b":-0.090},{"w":4387.3,"a":0.120,"b":-0.093},{"w":4471.5,"a":0.121,"b":-0.092}],
"labels":[{"w":4023.0,"f":-0.154,"t":"He I"},{"w":4023.9,"f":-0.2145,"t":"4026 Å"},{"w":4098.6,"f":-0.154,"t":"H δ"},{"w":4098.4,"f":-0.2145,"t":"4101 Å"},{"w":4142.2,"f":-0.154,"t":"He I"},{"w":4143.4,"f":-0.2145,"t":"4145 Å"},{"w":4338.7,"f":-0.154,"t":"H γ"},{"w":4337.6,"f":-0.2145,"t":"4340 Å"},{"w":4384.0,"f":-0.154,"t":"He I"},{"w":4385.7,"f":-0.2145,"t":"4387 Å"},{"w":4467.9,"f":-0.154,"t":"He I"},{"w":4469.0,"f":-0.2145,"t":"4471 Å"}],
"phase":[{"w":4228.7,"f":1.068,"t":"Phase = 0.25 P"},{"w":4228.7,"f":0.5655,"t":"Phase = 0.75 P"}],
"frame":[{"x1":3832.5,"x2":4650,"y1":1.6597,"y2":1.6597},{"x1":3832.5,"x2":3832.5,"y1":1.6597,"y2":-0.8}],
"blueTop":[{"x1":3913.7,"y1":1.7174,"x2":3911.7,"y2":1.6597},{"x1":4194.1,"y1":1.7174,"x2":4193.1,"y2":1.6597},{"x1":4453.8,"y1":1.7174,"x2":4452.7,"y2":1.6597}],
"blueLeft":[{"x1":3811.1,"y1":1.5713,"x2":3832.5,"y2":1.5636},{"x1":3811.1,"y1":-0.039,"x2":3832.5,"y2":-0.0256}]
},
"layer":[
{"data":{"name":"p25"},"mark":{"type":"line","color":"black","strokeWidth":1.8},
 "encoding":{
  "x":{"field":"w","type":"quantitative","scale":{"domain":[3942.8,4526.6],"nice":false,"zero":false},
   "axis":{"orient":"bottom","values":[4000,4100,4200,4300,4400,4500],"format":"d","ticks":false,"domain":false,"labelFontSize":29,"labelPadding":10,"labelFlush":false,"labelOverlap":false,"title":"Wavelength (Angstroms)","titleFontSize":29,"titleFontWeight":"normal","titlePadding":7}},
  "y":{"field":"f","type":"quantitative","scale":{"domain":[-0.3619,1.2177],"nice":false,"zero":false},
   "axis":{"orient":"left","values":[0,0.5,1],"format":"~g","ticks":false,"domain":false,"labelFontSize":29,"labelPadding":10,"labelFlush":false,"labelOverlap":false,"title":"Normalized Flux","titleFontSize":29,"titleFontWeight":"normal","titlePadding":7}}}},
{"data":{"name":"p75"},"mark":{"type":"line","color":"black","strokeWidth":1.8},
 "encoding":{
  "x":{"field":"w","type":"quantitative","axis":{"orient":"bottom","values":[4000,4100,4200,4300,4400,4500],"labels":false,"domain":false,"tickSize":-23,"tickWidth":2,"title":null}},
  "y":{"field":"f","type":"quantitative","axis":{"orient":"left","values":[0,0.5,1],"labels":false,"domain":false,"tickSize":-23,"tickWidth":2,"title":null}}}},
{"data":{"name":"marks"},"mark":{"type":"rule","color":"black","strokeWidth":2},
 "encoding":{
  "x":{"field":"w","type":"quantitative","axis":{"orient":"bottom","values":[3950,4050,4150,4250,4350,4450],"labels":false,"domain":false,"tickSize":-11,"tickWidth":2,"title":null}},
  "y":{"field":"a","type":"quantitative","axis":{"orient":"left","values":[-0.25,0.25,0.75],"labels":false,"domain":false,"tickSize":-12,"tickWidth":2,"title":null}},
  "y2":{"field":"b"}}},
{"data":{"name":"labels"},"mark":{"type":"text","font":"Open Sans","fontSize":25,"align":"center","baseline":"middle","color":"black"},
 "encoding":{
  "x":{"field":"w","type":"quantitative","axis":{"orient":"top","values":[4000,4100,4200,4300,4400,4500],"labels":false,"domain":false,"tickSize":-23,"tickWidth":2,"title":null}},
  "y":{"field":"f","type":"quantitative","axis":{"orient":"right","values":[0,0.5,1],"labels":false,"domain":false,"tickSize":-23,"tickWidth":2,"title":null}},
  "text":{"field":"t"}}},
{"data":{"name":"phase"},"mark":{"type":"text","font":"Open Sans","fontSize":24.5,"align":"center","baseline":"middle","color":"black"},
 "encoding":{
  "x":{"field":"w","type":"quantitative","axis":{"orient":"top","values":[3950,4050,4150,4250,4350,4450],"labels":false,"domain":false,"tickSize":-11,"tickWidth":2,"title":null}},
  "y":{"field":"f","type":"quantitative","axis":{"orient":"right","values":[-0.25,0.25,0.75],"labels":false,"domain":false,"tickSize":-12,"tickWidth":2,"title":null}},
  "text":{"field":"t"}}},
{"data":{"name":"frame"},"mark":{"type":"rule","color":"black","strokeWidth":2.4,"clip":false},
 "encoding":{"x":{"field":"x1","type":"quantitative","axis":null},"x2":{"field":"x2"},"y":{"field":"y1","type":"quantitative","axis":null},"y2":{"field":"y2"}}},
{"data":{"name":"blueTop"},"mark":{"type":"rule","color":"#2060ae","strokeWidth":7,"clip":false},
 "encoding":{"x":{"field":"x1","type":"quantitative","axis":null},"x2":{"field":"x2"},"y":{"field":"y1","type":"quantitative","axis":null},"y2":{"field":"y2"}}},
{"data":{"name":"blueLeft"},"mark":{"type":"rule","color":"#2060ae","strokeWidth":13,"clip":false},
 "encoding":{"x":{"field":"x1","type":"quantitative","axis":null},"x2":{"field":"x2"},"y":{"field":"y1","type":"quantitative","axis":null},"y2":{"field":"y2"}}}
]
}
